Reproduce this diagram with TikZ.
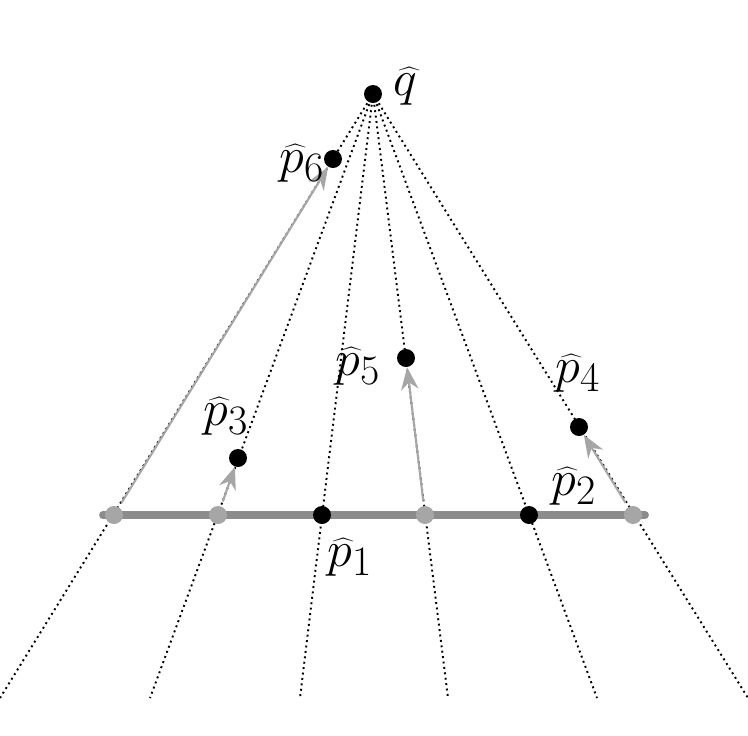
\documentclass[tikz,border=0pt]{standalone}
\usetikzlibrary{arrows.meta}
\tikzset{
	pt/.style={circle, fill=black, inner sep=0pt, minimum size=3.6mm},
	gpt/.style={circle, fill=gray!70, inner sep=0pt, minimum size=3.6mm},
	ray/.style={dotted, line width=1.1pt},
	push/.style={-{Stealth[length=4.5mm,width=3.5mm]}, gray!70, line width=1.2pt, shorten <=1mm},
	lbl/.style={font=\Huge, scale=1.15, inner sep=0pt}
}
\begin{document}
\begin{tikzpicture}[x=0.02cm, y=-0.02cm]
	\useasboundingbox (0,0) rectangle (748,735);
	\coordinate (b0) at (0,698);
	\coordinate (b1) at (150,698);
	\coordinate (b2) at (300,698);
	\coordinate (b3) at (448,698);
	\coordinate (b4) at (597,698);
	\coordinate (b5) at (748,698);
	\coordinate (l) at (103,515);
	\coordinate (r) at (645,515);
	\draw node[pt] at (373, 94) (q) {};
	% rays
	\foreach \i in {0,...,5}
		\draw [ray] (q.center) -- (b\i);
	\draw [gray!90, line width=4.5pt, line cap=round] (l) -- (r);
	\draw node[gpt] at (114, 515) (g6) {};
	\draw node[gpt] at (218, 515) (g3) {};
	\draw node[gpt] at (425, 515) (g5) {};
	\draw node[gpt] at (633, 515) (g4) {};
	\draw node[pt] at (322, 515) (p1) {};
	\draw node[pt] at (529, 515) (p2) {};
	\draw node[pt] at (238, 458) (p3) {};
	\draw node[pt] at (579, 427) (p4) {};
	\draw node[pt] at (406, 358) (p5) {};
	\draw node[pt] at (333, 159) (p6) {};
	% moves
	\draw [push] (g6) -- (p6);
	\draw [push] (g3) -- (p3);
	\draw [push] (g5) -- (p5);
	\draw [push] (g4) -- (p4);
	% labels
	\node[lbl] at (405, 86) {$\widehat{q}$};
	\node[lbl] at (302, 163) {$\widehat{p}_6$};
	\node[lbl] at (226, 416) {$\widehat{p}_3$};
	\node[lbl] at (358, 366) {$\widehat{p}_5$};
	\node[lbl] at (578, 373) {$\widehat{p}_4$};
	\node[lbl] at (574, 486) {$\widehat{p}_2$};
	\node[lbl] at (350, 557) {$\widehat{p}_1$};
\end{tikzpicture}
\end{document}
